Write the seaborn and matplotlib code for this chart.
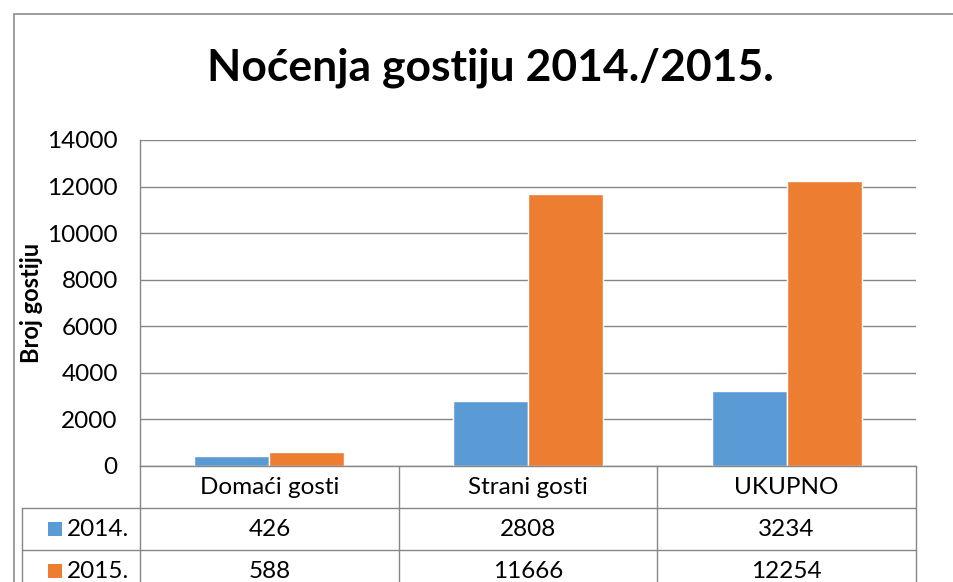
import pandas as pd
import numpy as np
import matplotlib.pyplot as plt
import seaborn as sns
from matplotlib.lines import Line2D
from matplotlib.patches import Rectangle

# Data
categories = ['Domaći gosti', 'Strani gosti', 'UKUPNO']
years = ['2014.', '2015.']
values_2014 = [426, 2808, 3234]
values_2015 = [588, 11666, 12254]
colors = ['#5B9BD5', '#ED7D31']
y_ticks = [0, 2000, 4000, 6000, 8000, 10000, 12000, 14000]

W, H = 954, 582
GRID = '#868686'


def px(x, y):
    """Pixel position (from top-left) to figure fraction."""
    return x / W, 1 - y / H


sns.set_style('white')
plt.rcParams['font.family'] = ['Lato', 'DejaVu Sans']
plt.rcParams['text.color'] = 'black'
plt.rcParams['axes.labelcolor'] = 'black'

df = pd.DataFrame({
    'kategorija': categories * 2,
    'godina': [years[0]] * 3 + [years[1]] * 3,
    'broj': values_2014 + values_2015,
})

fig = plt.figure(figsize=(W / 100, H / 100), dpi=100)
left, top = px(140, 140)
right, bottom = px(916, 466)
ax = fig.add_axes([left, bottom, right - left, top - bottom])

sns.barplot(data=df, x='kategorija', y='broj', hue='godina', palette=colors,
            width=0.58, gap=0, saturation=1, legend=False, ax=ax, errorbar=None)

ax.set_xlim(-0.5, 2.5)
ax.set_ylim(0, 14000)
ax.set_yticks(y_ticks)
ax.set_yticklabels([str(t) for t in y_ticks], fontsize=17.5, color='black')
ax.yaxis.grid(True, color=GRID, linewidth=1)
ax.set_axisbelow(True)
ax.set_xticks([])
ax.set_xlabel('')
ax.set_ylabel('Broj gostiju', fontsize=17, fontweight='bold')
ax.yaxis.set_label_coords(-0.125, 0.5)
ax.tick_params(axis='y', direction='out', length=6, color=GRID, pad=10)
for s in ['top', 'right']:
    ax.spines[s].set_visible(False)
for s in ['left', 'bottom']:
    ax.spines[s].set_color(GRID)
    ax.spines[s].set_linewidth(1)

# Title
tx, ty = px(490, 68)
fig.text(tx, ty, 'Noćenja gostiju 2014./2015.', fontsize=32, fontweight='bold',
         ha='center', va='center')

# Outer chart border
bx, by = px(14, 14)
fig.add_artist(Rectangle((bx, -0.1), 1.2, by + 0.1, transform=fig.transFigure,
                         fill=False, edgecolor='#8C8C8C', linewidth=1.2))

# Data table
def hline(y, x0, x1):
    a0, b = px(x0, y)
    a1, _ = px(x1, y)
    fig.add_artist(Line2D([a0, a1], [b, b], color=GRID, linewidth=1,
                          transform=fig.transFigure))


def vline(x, y0, y1):
    a, b0 = px(x, y0)
    _, b1 = px(x, y1)
    fig.add_artist(Line2D([a, a], [b0, b1], color=GRID, linewidth=1,
                          transform=fig.transFigure))


col_edges = [140, 399, 657, 916]
row_edges = [466, 508, 550, 592]
hline(508, 22, 916)
hline(550, 22, 916)
for x in col_edges:
    vline(x, 466, 600)
vline(22, 508, 600)

col_centers = [(col_edges[i] + col_edges[i + 1]) / 2 for i in range(3)]
for i, cat in enumerate(categories):
    fig.text(*px(col_centers[i], 488), cat, fontsize=17.5, ha='center', va='center')

for r, (yr, vals, c) in enumerate(zip(years, [values_2014, values_2015], colors)):
    yc = (row_edges[r + 1] + row_edges[r + 2]) / 2
    sx, sy = px(48, yc + 7)
    fig.add_artist(Rectangle((sx, sy), 14 / W, 14 / H, transform=fig.transFigure,
                             facecolor=c, edgecolor='none'))
    fig.text(*px(67, yc), yr, fontsize=17.5, ha='left', va='center')
    for i, v in enumerate(vals):
        fig.text(*px(col_centers[i], yc), str(v), fontsize=17.5, ha='center', va='center')

fig.savefig('out.png', dpi=100)
